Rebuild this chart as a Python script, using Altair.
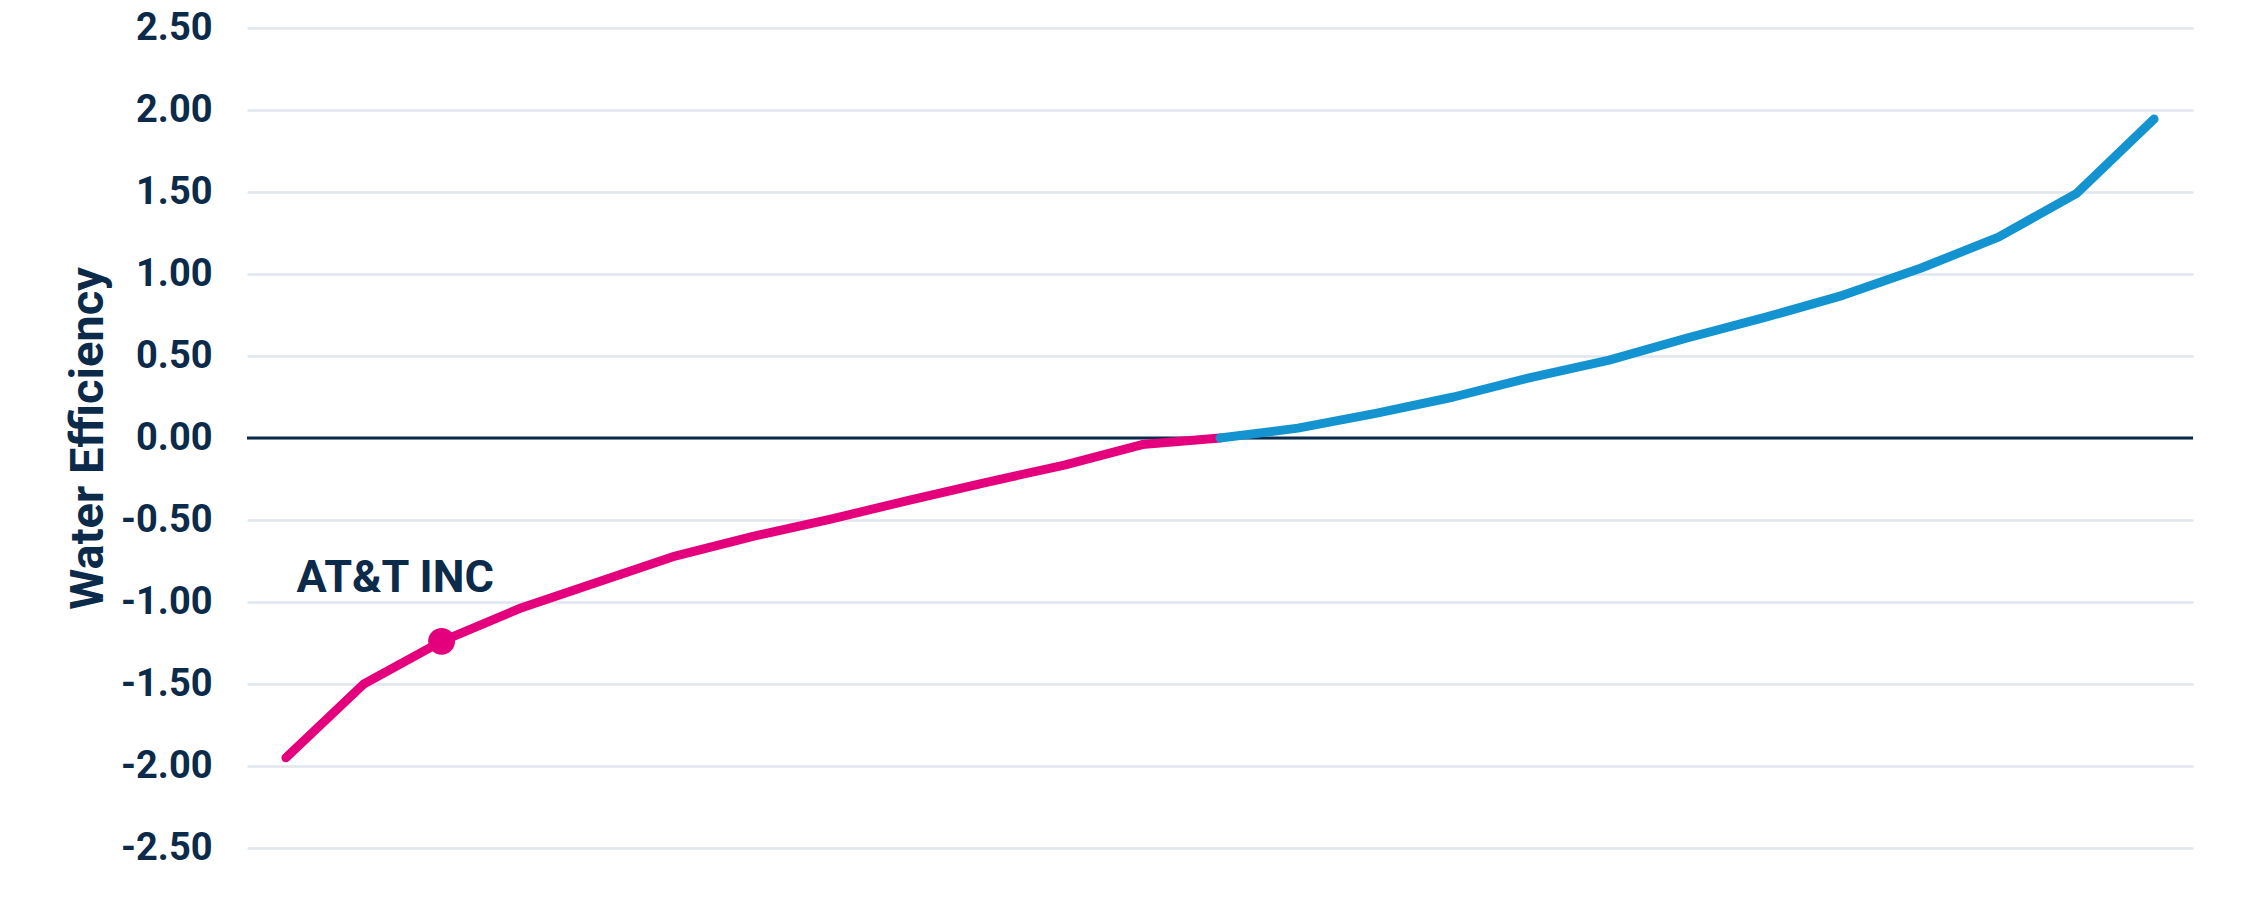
import altair as alt
import pandas as pd

# Data
ranks = list(range(25))
efficiency = [-1.95, -1.50, -1.24, -1.04, -0.88, -0.72, -0.60, -0.495, -0.38, -0.27,
              -0.165, -0.04, 0.0, 0.06, 0.15, 0.25, 0.37, 0.475, 0.61, 0.735,
              0.87, 1.035, 1.225, 1.49, 1.945]
highlight_rank = [2]
highlight_name = ["AT&T INC"]
y_ticks = [-2.5, -2.0, -1.5, -1.0, -0.5, 0.0, 0.5, 1.0, 1.5, 2.0, 2.5]

PINK = "#E4007C"
BLUE = "#1493D1"
NAVY = "#0C2A4A"
GRID = "#DFE6EE"
FONT = "Roboto"

df = pd.DataFrame({"rank": ranks, "eff": efficiency})
hl = pd.DataFrame({"rank": highlight_rank,
                   "eff": [efficiency[i] for i in highlight_rank],
                   "name": highlight_name})
zero = pd.DataFrame({"y": [0.0]})

x_enc = alt.X("rank:Q", scale=alt.Scale(domain=[-0.5, 24.5], nice=False, zero=False), axis=None)
y_scale = alt.Scale(domain=[-2.5, 2.5], nice=False)
y_axis = alt.Axis(values=y_ticks,
                  labelExpr="replace(format(datum.value, '.2f'), '\u2212', '-')",
                  labelFontSize=38, labelFont=FONT,
                  labelFontWeight="bold", labelColor=NAVY, domain=False, ticks=False,
                  labelPadding=35, gridColor=GRID, gridWidth=2.5,
                  title="Water Efficiency", titleFontSize=47, titleFont=FONT,
                  titleFontWeight="bold", titleColor=NAVY, titlePadding=8)

base = alt.Chart(df)

grid = base.mark_line(opacity=0).encode(
    x=x_enc, y=alt.Y("eff:Q", scale=y_scale, axis=y_axis))

zero_rule = alt.Chart(zero).mark_rule(color=NAVY, strokeWidth=3).encode(
    y=alt.Y("y:Q", scale=y_scale))

neg_line = base.transform_filter(alt.datum.rank <= 12).mark_line(
    color=PINK, strokeWidth=9, strokeCap="round", strokeJoin="round").encode(
    x=x_enc, y=alt.Y("eff:Q", scale=y_scale))

pos_line = base.transform_filter(alt.datum.rank >= 12).mark_line(
    color=BLUE, strokeWidth=9, strokeCap="round", strokeJoin="round").encode(
    x=x_enc, y=alt.Y("eff:Q", scale=y_scale))

dot = alt.Chart(hl).mark_point(filled=True, color=PINK, size=720, opacity=1).encode(
    x=x_enc, y=alt.Y("eff:Q", scale=y_scale))

label = alt.Chart(hl).mark_text(
    align="left", baseline="alphabetic", dx=-145, dy=-49, fontSize=45,
    font=FONT, fontWeight="bold", color=NAVY).encode(
    x=x_enc, y=alt.Y("eff:Q", scale=y_scale), text="name:N")

chart = alt.layer(grid, zero_rule, neg_line, pos_line, dot, label).properties(
    width=1946, height=820,
    padding={"left": 239, "top": 20, "right": 10, "bottom": 20},
    autosize=alt.AutoSizeParams(type="none"),
    background="white",
).configure_view(stroke=None)

chart.save("out.html", embed_options={"renderer": "svg", "actions": False})
